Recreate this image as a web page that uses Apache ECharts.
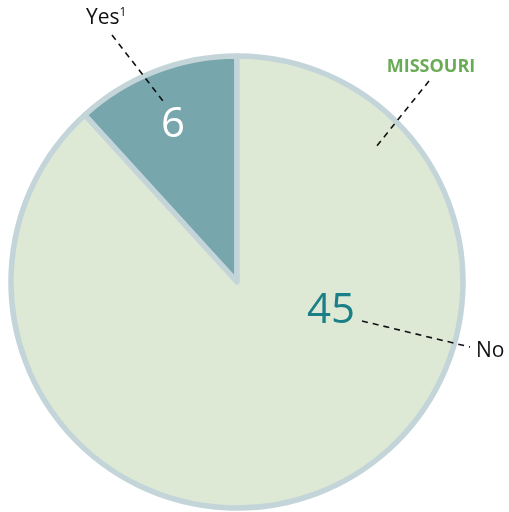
<!DOCTYPE html>
<html>
<head>
<meta charset="utf-8">
<script src="https://cdn.jsdelivr.net/npm/echarts@6/dist/echarts.min.js"></script>
<style>
  html, body { margin: 0; padding: 0; background: #ffffff; }
  #chart { width: 509px; height: 512px; }
</style>
</head>
<body>
<div id="chart"></div>
<script>
// Survey answers for Missouri
const categories = ['Yes', 'No'];
const counts = [6, 45];
const stateName = 'MISSOURI';

const sliceColors = ['#77a6ad', '#dde9d5'];
const valueColors = ['#ffffff', '#1b7f87'];
const FONT = '"Open Sans", "Noto Sans", sans-serif';

const chart = echarts.init(document.getElementById('chart'), null, { renderer: 'canvas' });

// where each value number sits, per category
const valuePos = [[173, 125], [331, 311]];

const dash = { stroke: '#111', lineWidth: 1.6, lineDash: [6, 5] };

const option = {
  animation: false,
  series: [{
    type: 'pie',
    center: [237, 282],
    radius: [0, 226],
    startAngle: 90,
    clockwise: false,
    silent: true,
    itemStyle: { borderColor: '#c4d5da', borderWidth: 5.5 },
    label: {
      show: true,
      position: 'inside',
      formatter: p => String(p.value),
      fontFamily: FONT,
      fontSize: 42,
      fontWeight: 'normal'
    },
    labelLine: { show: false },
    labelLayout: p => ({
      x: valuePos[p.dataIndex][0],
      y: valuePos[p.dataIndex][1],
      align: 'center',
      verticalAlign: 'middle'
    }),
    data: categories.map((c, i) => ({
      name: c,
      value: counts[i],
      itemStyle: { color: sliceColors[i] },
      label: { color: valueColors[i] }
    }))
  }],
  graphic: {
    elements: [
      // leader lines
      { type: 'line', z: 100, shape: { x1: 112, y1: 35, x2: 163, y2: 101 }, style: dash },
      { type: 'line', z: 100, shape: { x1: 429, y1: 81, x2: 376, y2: 147 }, style: dash },
      { type: 'line', z: 100, shape: { x1: 362, y1: 321, x2: 470, y2: 347 }, style: dash },
      // category labels
      {
        type: 'text', z: 100, x: 86, y: 18,
        style: {
          text: '{b|' + categories[0] + '}{s|1}',
          align: 'left', verticalAlign: 'middle',
          rich: {
            b: { fontFamily: FONT, fontSize: 21, fill: '#111' },
            s: { fontFamily: FONT, fontSize: 12, fill: '#111', verticalAlign: 'top', padding: [0, 0, 10, 0] }
          }
        }
      },
      {
        type: 'text', z: 100, x: 476, y: 351,
        style: { text: categories[1], fontFamily: FONT, fontSize: 21, fill: '#111', align: 'left', verticalAlign: 'middle' }
      },
      {
        type: 'text', z: 100, x: 431, y: 67,
        style: { text: stateName, fontFamily: FONT, fontSize: 18, fontWeight: 'bold', fill: '#6aab55', align: 'center', verticalAlign: 'middle' }
      }
    ]
  }
};

chart.setOption(option);
</script>
</body>
</html>
